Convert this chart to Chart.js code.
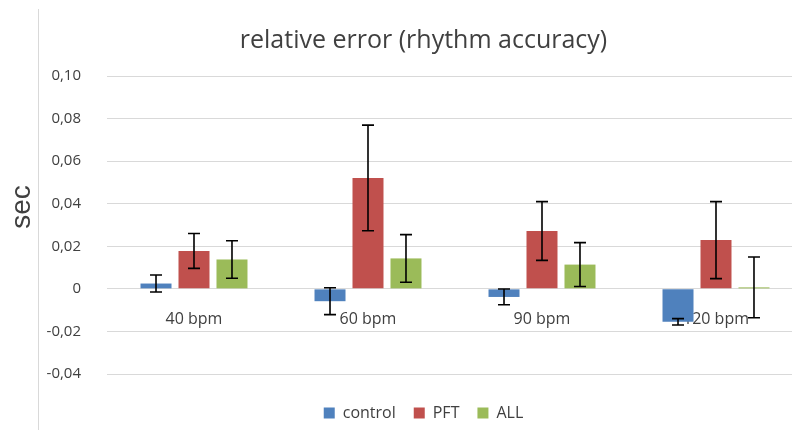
<!DOCTYPE html>
<html>
<head>
<meta charset="utf-8">
<script src="https://cdn.jsdelivr.net/npm/chart.js@4.4.1/dist/chart.umd.min.js"></script>
<style>
  html, body { margin: 0; padding: 0; background: #fff; overflow: hidden; }
  #wrap { width: 792px; height: 430px; overflow: hidden; }
  canvas { display: block; }
</style>
</head>
<body>
<div id="wrap"><canvas id="errChart" width="849" height="431"></canvas></div>
<script>
// chart values
var categories = ["40 bpm", "60 bpm", "90 bpm", "120 bpm"];
var controlVals = [0.0025, -0.0058, -0.0038, -0.0155];
var controlErr  = [0.0040, 0.0063, 0.0037, 0.0015];
var pftVals     = [0.0178, 0.0521, 0.0272, 0.0229];
var pftErr      = [0.0082, 0.0248, 0.0138, 0.0181];
var allVals     = [0.0138, 0.0143, 0.0114, 0.0007];
var allErr      = [0.0088, 0.0112, 0.0103, 0.0143];
var yMin = -0.04, yMax = 0.10, yStep = 0.02;
var yTickLabels = ["-0,04", "-0,02", "0", "0,02", "0,04", "0,06", "0,08", "0,10"];

var TEXT = "#404040";
var FONT = "'Open Sans', sans-serif";

// draws +/- error whiskers on each bar, using the chart's own y scale
var errorBars = {
  id: "errorBars",
  afterDatasetsDraw: function (chart) {
    var ctx = chart.ctx;
    var y = chart.scales.y;
    ctx.save();
    ctx.strokeStyle = "#000";
    ctx.lineWidth = 1.6;
    chart.data.datasets.forEach(function (ds, di) {
      var meta = chart.getDatasetMeta(di);
      if (meta.hidden) return;
      meta.data.forEach(function (bar, i) {
        var v = ds.data[i], e = ds.errors[i];
        var top = y.getPixelForValue(v + e);
        var bot = y.getPixelForValue(v - e);
        var x = bar.x;
        ctx.beginPath();
        ctx.moveTo(x, top); ctx.lineTo(x, bot);
        ctx.moveTo(x - 6, top); ctx.lineTo(x + 6, top);
        ctx.moveTo(x - 6, bot); ctx.lineTo(x + 6, bot);
        ctx.stroke();
      });
    });
    ctx.restore();
  }
};

// the "sec" axis caption and the thin frame line left of the chart
var sideDecor = {
  id: "sideDecor",
  afterDraw: function (chart) {
    var ctx = chart.ctx;
    ctx.save();
    ctx.strokeStyle = "#d9d9d9";
    ctx.lineWidth = 1;
    ctx.beginPath();
    ctx.moveTo(38.5, 9); ctx.lineTo(38.5, 431);
    ctx.stroke();
    ctx.translate(22, 207);
    ctx.rotate(-Math.PI / 2);
    ctx.fillStyle = TEXT;
    ctx.font = "28px 'Liberation Sans', Arial, sans-serif";
    ctx.textAlign = "center";
    ctx.textBaseline = "middle";
    ctx.fillText("sec", 0, 0);
    ctx.restore();
  }
};

function makeSet(label, vals, errs, color) {
  return {
    label: label,
    data: vals,
    errors: errs,
    backgroundColor: color,
    borderWidth: 0,
    categoryPercentage: 0.655,
    barPercentage: 0.816
  };
}

new Chart(document.getElementById("errChart").getContext("2d"), {
  type: "bar",
  data: {
    labels: categories,
    datasets: [
      makeSet("control", controlVals, controlErr, "#4F81BD"),
      makeSet("PFT", pftVals, pftErr, "#C0504D"),
      makeSet("ALL", allVals, allErr, "#9BBB59")
    ]
  },
  plugins: [errorBars, sideDecor],
  options: {
    responsive: false,
    animation: false,
    layout: { padding: { left: 44, right: 46, top: 0, bottom: 0 } },
    plugins: {
      title: {
        display: true,
        text: "relative error (rhythm accuracy)",
        color: TEXT,
        font: { family: FONT, size: 25, weight: "normal" },
        padding: { top: 26, bottom: 20 }
      },
      legend: {
        position: "bottom",
        labels: {
          color: TEXT,
          font: { family: FONT, size: 16 },
          boxWidth: 11,
          boxHeight: 11,
          padding: 18
        }
      },
      tooltip: { enabled: false }
    },
    scales: {
      x: {
        position: { y: 0 },
        grid: { display: false },
        border: { display: false },
        ticks: { color: TEXT, font: { family: FONT, size: 16 }, padding: 13 }
      },
      // empty strip that only keeps the plot clear of the legend
      x2: {
        type: "category",
        position: "bottom",
        grid: { display: false },
        border: { display: false },
        ticks: { display: false },
        afterFit: function (s) { s.height = 13; }
      },
      y: {
        min: yMin,
        max: yMax,
        afterFit: function (s) { s.width = 63; },
        grid: { color: "#d9d9d9", drawTicks: false },
        border: { display: false },
        ticks: {
          stepSize: yStep,
          padding: 26,
          color: TEXT,
          font: { family: FONT, size: 15 },
          callback: function (v) {
            return yTickLabels[Math.round((v - yMin) / yStep)];
          }
        }
      }
    }
  }
});
</script>
</body>
</html>
